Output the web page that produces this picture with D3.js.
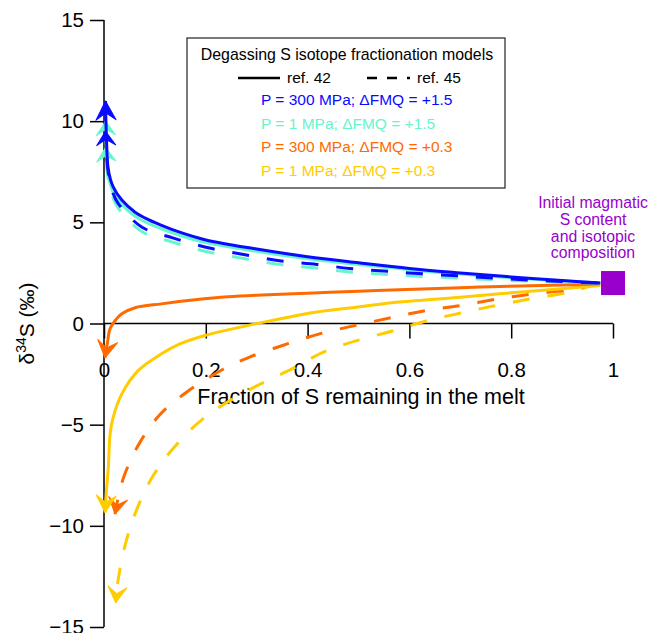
<!DOCTYPE html>
<html><head><meta charset="utf-8">
<script src="https://cdn.jsdelivr.net/npm/d3@7"></script>
<style>
html,body{margin:0;padding:0;background:#fff;}
svg{display:block;font-family:"Liberation Sans",Arial,Helvetica,sans-serif;}
</style></head>
<body>
<svg id="chart" width="651" height="633"></svg>
<script>
// ---------- data ----------
const fracTicks = [0, 0.2, 0.4, 0.6, 0.8, 1];
const fracTickLabels = ["0", "0.2", "0.4", "0.6", "0.8", "1"];
const fracMinorTicks = [0.1, 0.3, 0.5, 0.7, 0.9];
const d34Ticks = [-15, -10, -5, 0, 5, 10, 15];
const d34MinorTicks = [-14,-13,-12,-11,-9,-8,-7,-6,-4,-3,-2,-1,1,2,3,4,6,7,8,9,11,12,13,14];

const seriesNames = ["P = 300 MPa; \u0394FMQ = +1.5", "P = 1 MPa; \u0394FMQ = +1.5",
                     "P = 300 MPa; \u0394FMQ = +0.3", "P = 1 MPa; \u0394FMQ = +0.3"];
const seriesColors = ["#0a0aff", "#66f5cc", "#ff6a00", "#ffcc00"];
const refNames = ["ref. 42", "ref. 45"];

// ref. 42 (solid)
const blueSolidF = [0.975, 0.9, 0.8, 0.7, 0.6, 0.5, 0.4, 0.3, 0.2, 0.15, 0.113, 0.08, 0.061, 0.035, 0.018, 0.0085, 0.005, 0.003];
const blueSolidD = [2.0, 2.13, 2.3, 2.5, 2.72, 3.0, 3.3, 3.68, 4.13, 4.5, 4.85, 5.22, 5.5, 6.1, 6.75, 7.6, 9.0, 11.0];
const cyanSolidF = [0.975, 0.9, 0.8, 0.7, 0.6, 0.5, 0.4, 0.3, 0.2, 0.15, 0.113, 0.08, 0.061, 0.035, 0.018, 0.0085, 0.005, 0.003];
const cyanSolidD = [2.0, 2.1, 2.26, 2.45, 2.66, 2.92, 3.2, 3.57, 4.0, 4.35, 4.68, 5.03, 5.3, 5.88, 6.5, 7.3, 8.5, 10.0];
const orangeSolidF = [0.975, 0.9, 0.778, 0.7, 0.58, 0.5, 0.4, 0.31, 0.244, 0.179, 0.113, 0.061, 0.035, 0.022, 0.012, 0.007, 0.002];
const orangeSolidD = [1.96, 1.9, 1.83, 1.77, 1.67, 1.59, 1.5, 1.41, 1.32, 1.17, 0.97, 0.78, 0.48, 0.15, -0.25, -0.9, -1.7];
const yellowSolidF = [0.975, 0.9, 0.778, 0.7, 0.58, 0.5, 0.415, 0.297, 0.198, 0.15, 0.113, 0.067, 0.035, 0.018, 0.012, 0.0085, 0.005, 0.002];
const yellowSolidD = [1.88, 1.72, 1.47, 1.3, 1.06, 0.82, 0.56, -0.02, -0.59, -1.0, -1.5, -2.33, -3.48, -4.64, -5.46, -7.11, -8.2, -9.34];

// ref. 45 (dashed)
const blueDashF = [0.97, 0.9, 0.8, 0.7, 0.6, 0.558, 0.49, 0.418, 0.348, 0.277, 0.207, 0.135, 0.074, 0.028, 0.018, 0.01, 0.005, 0.003];
const blueDashD = [2.0, 2.07, 2.2, 2.35, 2.5, 2.58, 2.7, 2.92, 3.09, 3.4, 3.73, 4.23, 4.77, 5.93, 6.42, 7.2, 8.3, 9.5];
const cyanDashF = [0.97, 0.9, 0.8, 0.7, 0.6, 0.558, 0.49, 0.418, 0.348, 0.277, 0.207, 0.135, 0.074, 0.028, 0.018, 0.01, 0.005, 0.003];
const cyanDashD = [2.0, 2.03, 2.13, 2.24, 2.36, 2.42, 2.53, 2.74, 2.91, 3.2, 3.52, 4.02, 4.55, 5.7, 6.2, 6.9, 7.8, 8.7];
const orangeDashF = [0.97, 0.915, 0.843, 0.775, 0.705, 0.635, 0.565, 0.495, 0.425, 0.355, 0.285, 0.235, 0.162, 0.11, 0.07, 0.04, 0.028, 0.0216];
const orangeDashD = [1.97, 1.68, 1.46, 1.22, 0.9, 0.65, 0.29, -0.09, -0.5, -1.05, -1.67, -2.25, -3.4, -4.5, -5.9, -7.5, -8.6, -9.42];
const yellowDashF = [0.97, 0.915, 0.845, 0.776, 0.707, 0.637, 0.57, 0.5, 0.432, 0.375, 0.28, 0.198, 0.137, 0.095, 0.065, 0.042, 0.028, 0.023];
const yellowDashD = [1.97, 1.55, 1.25, 0.92, 0.55, 0.15, -0.35, -0.82, -1.4, -2.17, -3.35, -4.64, -6.14, -7.59, -9.15, -10.9, -12.64, -13.8];

const initialF = [1];
const initialD = [2];
const initialLabel = ["Initial magmatic", "S content", "and isotopic", "composition"];

// ---------- drawing ----------
const svg = d3.select("#chart");
const x = d3.scaleLinear().domain([0, 1]).range([104, 613]);
const y = d3.scaleLinear().domain([-15, 15]).range([627, 20]);
const FONT = 20.5;

// x axis
const gx = svg.append("g").attr("transform", `translate(0,${y(0)})`);
gx.call(d3.axisBottom(x).tickValues(fracMinorTicks).tickSize(7).tickFormat(""));
gx.call(d3.axisBottom(x).tickValues(fracTicks).tickSize(15).tickPadding(24)
  .tickFormat((d, i) => fracTickLabels[i]));
gx.selectAll(".domain").remove();
gx.append("line").attr("x1", x(0)).attr("x2", x(1)).attr("stroke", "#000").attr("stroke-width", 1.5);
gx.selectAll(".tick line").attr("stroke", "#000").attr("stroke-width", 1.5);
gx.selectAll(".tick text").attr("font-size", FONT).attr("font-family", "Liberation Sans, Arial, sans-serif").attr("fill", "#000");

// y axis
const gy = svg.append("g").attr("transform", `translate(${x(0)},0)`);
gy.call(d3.axisLeft(y).tickValues(d34MinorTicks).tickSize(7).tickFormat(""));
gy.call(d3.axisLeft(y).tickValues(d34Ticks).tickSize(14).tickPadding(6));
gy.selectAll(".domain").remove();
gy.append("line").attr("y1", y(15)).attr("y2", y(-15)).attr("stroke", "#000").attr("stroke-width", 1.5);
gy.selectAll(".tick line").attr("stroke", "#000").attr("stroke-width", 1.5);
gy.selectAll(".tick text").attr("font-size", FONT).attr("font-family", "Liberation Sans, Arial, sans-serif").attr("fill", "#000");

// axis titles
svg.append("text").attr("x", 361).attr("y", 404).attr("text-anchor", "middle")
  .attr("font-size", 21.5).text("Fraction of S remaining in the melt");
const yl = svg.append("text").attr("transform", `translate(34,${y(0)}) rotate(-90)`)
  .attr("text-anchor", "middle").attr("font-size", 21);
yl.append("tspan").text("\u03B4");
yl.append("tspan").attr("dy", -8).attr("font-size", 14).text("34");
yl.append("tspan").attr("dy", 8).text("S (\u2030)");

// curves
const line = d3.line().x(d => x(d[0])).y(d => y(d[1])).curve(d3.curveCatmullRom.alpha(0.5));
function zip(f, v) { return f.map((d, i) => [d, v[i]]); }

const curves = [
  {f: yellowDashF, v: yellowDashD, c: seriesColors[3], dash: true, L: 16, W: 9.5, N: 9},
  {f: orangeDashF, v: orangeDashD, c: seriesColors[2], dash: true, L: 16, W: 9.5, N: 9},
  {f: yellowSolidF, v: yellowSolidD, c: seriesColors[3], dash: false, L: 17, W: 10, N: 10},
  {f: orangeSolidF, v: orangeSolidD, c: seriesColors[2], dash: false, L: 17, W: 10, N: 10},
  {f: cyanDashF, v: cyanDashD, c: seriesColors[1], dash: true, L: 14, W: 9.5, N: 8},
  {f: cyanSolidF, v: cyanSolidD, c: seriesColors[1], dash: false, L: 14, W: 9.5, N: 8},
  {f: blueDashF, v: blueDashD, c: seriesColors[0], dash: true, L: 14, W: 9.5, N: 8},
  {f: blueSolidF, v: blueSolidD, c: seriesColors[0], dash: false, L: 19, W: 10, N: 12}
];

const gc = svg.append("g");
curves.forEach(s => {
  const pts = zip(s.f, s.v);
  gc.append("path").attr("d", line(pts)).attr("fill", "none").attr("stroke", s.c)
    .attr("stroke-width", 3).attr("stroke-dasharray", s.dash ? "17,18" : null);
  const a = pts[pts.length - 2], b = pts[pts.length - 1];
  const ang = Math.atan2(y(b[1]) - y(a[1]), x(b[0]) - x(a[0])) * 180 / Math.PI;
  gc.append("path")
    .attr("d", `M0,0 L${-s.L},${-s.W} L${-s.N},0 L${-s.L},${s.W} Z`)
    .attr("transform", `translate(${x(b[0])},${y(b[1])}) rotate(${ang})`)
    .attr("fill", s.c).attr("stroke", s.c).attr("stroke-width", 1).attr("stroke-linejoin", "round");
});

// initial composition square
svg.selectAll("rect.init").data(zip(initialF, initialD)).enter().append("rect")
  .attr("class", "init").attr("x", d => x(d[0]) - 12).attr("y", d => y(d[1]) - 12)
  .attr("width", 24).attr("height", 24).attr("fill", "#9900cc");
svg.append("g").selectAll("text").data(initialLabel).enter().append("text")
  .attr("x", 593).attr("y", (d, i) => 208 + i * 16.8).attr("text-anchor", "middle")
  .attr("font-size", 15.8).attr("fill", "#9900cc").text(d => d);

// legend
const lg = svg.append("g");
lg.append("rect").attr("x", 187).attr("y", 38).attr("width", 318).attr("height", 150)
  .attr("fill", "#fff").attr("stroke", "#222").attr("stroke-width", 1.2);
lg.append("text").attr("x", 347).attr("y", 60).attr("text-anchor", "middle")
  .attr("font-size", 15.9).text("Degassing S isotope fractionation models");
lg.append("line").attr("x1", 238).attr("x2", 280).attr("y1", 78).attr("y2", 78)
  .attr("stroke", "#000").attr("stroke-width", 2.5);
lg.append("line").attr("x1", 367).attr("x2", 410).attr("y1", 78).attr("y2", 78)
  .attr("stroke", "#000").attr("stroke-width", 2.5).attr("stroke-dasharray", "10,10");
lg.append("text").attr("x", 287).attr("y", 83).attr("font-size", 15.5).text(refNames[0]);
lg.append("text").attr("x", 417).attr("y", 83).attr("font-size", 15.5).text(refNames[1]);
lg.selectAll("text.ser").data(seriesNames).enter().append("text").attr("class", "ser")
  .attr("x", 261).attr("y", (d, i) => 105 + i * 23.6).attr("font-size", 15.5)
  .attr("fill", (d, i) => seriesColors[i]).text(d => d);
</script>
</body></html>
